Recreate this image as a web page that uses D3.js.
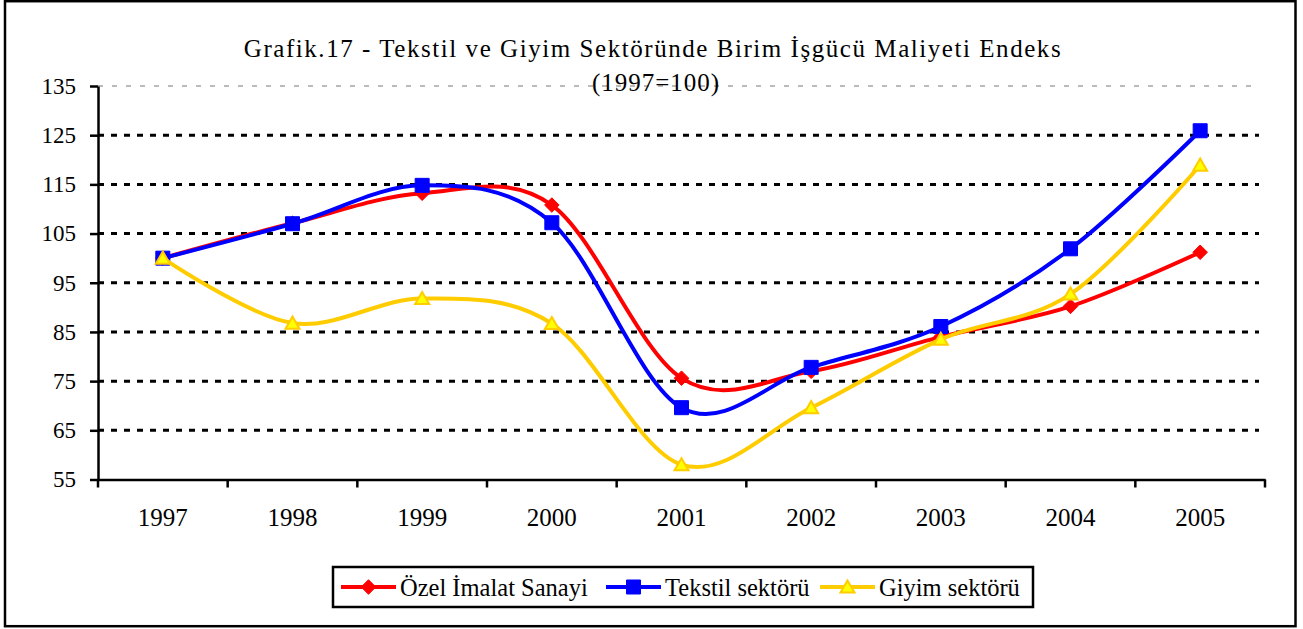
<!DOCTYPE html>
<html>
<head>
<meta charset="utf-8">
<script src="https://cdn.jsdelivr.net/npm/d3@7"></script>
<style>
  body { margin: 0; background: #fff; }
</style>
</head>
<body>
<div class="chart"></div>
<script>
var years = ["1997", "1998", "1999", "2000", "2001", "2002", "2003", "2004", "2005"];
var ozelImalat = [100, 107.1, 113.2, 110.8, 75.6, 77.0, 84.0, 90.2, 101.2];
var tekstil = [100, 107.0, 114.8, 107.2, 69.6, 77.8, 86.1, 101.9, 125.9];
var giyim = [100, 86.8, 91.8, 86.7, 58.0, 69.6, 83.5, 92.7, 118.9];
var yTicks = [55, 65, 75, 85, 95, 105, 115, 125, 135];
var seriesNames = ["Özel İmalat Sanayi", "Tekstil sektörü", "Giyim sektörü"];

var serifFont = '"Liberation Serif", "Times New Roman", serif';

var W = 1303, H = 629;
var margin = { top: 86, right: 38, bottom: 149.5, left: 98 };
var width = W - margin.left - margin.right;
var height = H - margin.top - margin.bottom;

var xScale = d3.scaleBand().domain(years).range([0, width]);
var yScale = d3.scaleLinear().domain([55, 135]).range([height, 0]);

var svg = d3.select(".chart").append("svg")
  .attr("width", W)
  .attr("height", H);

// outer frame
svg.append("rect")
  .attr("x", 5).attr("y", 1.2)
  .attr("width", 1290.5).attr("height", 625)
  .attr("fill", "none").attr("stroke", "#000").attr("stroke-width", 2.5);

// title
svg.append("text")
  .attr("x", 653).attr("y", 57)
  .attr("text-anchor", "middle")
  .style("font-family", serifFont)
  .style("font-size", "25px")
  .style("letter-spacing", "1.55px")
  .text("Grafik.17 - Tekstil ve Giyim Sektöründe Birim İşgücü Maliyeti Endeks");

var chart = svg.append("g")
  .attr("transform", "translate(" + margin.left + "," + margin.top + ")");

// gridlines
chart.selectAll(".grid")
  .data(yTicks.slice(1))
  .enter().append("line")
  .attr("class", "grid")
  .attr("x1", 0).attr("x2", width - 6)
  .attr("y1", function (d) { return yScale(d); })
  .attr("y2", function (d) { return yScale(d); })
  .attr("stroke", function (d) { return d === 135 ? "#777" : "#000"; })
  .attr("stroke-width", function (d) { return d === 135 ? 1 : 3; })
  .attr("stroke-dasharray", function (d) { return d === 135 ? "5,9" : "6,7"; });

svg.append("text")
  .attr("x", 656).attr("y", 91)
  .attr("text-anchor", "middle")
  .style("font-family", serifFont)
  .style("font-size", "25px")
  .style("letter-spacing", "1px")
  .text("(1997=100)");

// axes
var yAxis = chart.append("g")
  .call(d3.axisLeft(yScale).tickValues(yTicks).tickSize(8).tickSizeOuter(0).tickPadding(14));
yAxis.select(".domain").attr("stroke-width", 2.5);
yAxis.selectAll(".tick line").attr("stroke-width", 2.5);
yAxis.selectAll(".tick text")
  .style("font-size", "23px")
  .style("font-family", serifFont);

var xAxis = chart.append("g")
  .attr("transform", "translate(0," + height + ")")
  .call(d3.axisBottom(xScale).tickSize(0).tickPadding(29));
xAxis.select(".domain").attr("stroke-width", 2.5);
xAxis.selectAll(".tick text")
  .style("font-size", "25px")
  .style("font-family", serifFont);

// category separator ticks
chart.selectAll(".xsep")
  .data(years.concat(["end"]))
  .enter().append("line")
  .attr("x1", function (d, i) { return i * xScale.step(); })
  .attr("x2", function (d, i) { return i * xScale.step(); })
  .attr("y1", height).attr("y2", height + 8)
  .attr("stroke", "#000").attr("stroke-width", 2.5);

/* series */

var series = [
  { name: seriesNames[0], values: ozelImalat, color: "#ff0000", fill: "#ff0000", stroke: "#ff0000", marker: d3.symbolDiamond2, size: 135 },
  { name: seriesNames[1], values: tekstil, color: "#0000ff", fill: "#0000ff", stroke: "#0000ff", marker: d3.symbolSquare, size: 196 },
  { name: seriesNames[2], values: giyim, color: "#ffcc00", fill: "#ffff00", stroke: "#ffcc00", marker: d3.symbolTriangle, size: 85 }
];

var cx = function (i) { return xScale(years[i]) + xScale.bandwidth() / 2; };

var line = d3.line()
  .curve(d3.curveCardinal.tension(0))
  .x(function (d, i) { return cx(i); })
  .y(function (d) { return yScale(d); });

var symbolPath = function (s) {
  return d3.symbol().type(s.marker).size(s.size)();
};

var param = chart.selectAll(".param")
  .data(series)
  .enter().append("g");

param.append("path")
  .attr("d", function (d) { return line(d.values); })
  .attr("fill", "none")
  .attr("stroke", function (d) { return d.color; })
  .attr("stroke-width", 4)
  .attr("stroke-linejoin", "round");

param.each(function (s) {
  d3.select(this).selectAll(".pt")
    .data(s.values)
    .enter().append("path")
    .attr("transform", function (d, i) {
      var dy = s.marker === d3.symbolTriangle ? 1.5 : 0;
      return "translate(" + cx(i) + "," + (yScale(d) + dy) + ")";
    })
    .attr("d", symbolPath(s))
    .attr("fill", s.fill)
    .attr("stroke", s.stroke)
    .attr("stroke-width", s.marker === d3.symbolTriangle ? 2 : 1);
});

/* legend */

var legend = svg.append("g");
legend.append("rect")
  .attr("x", 333).attr("y", 567)
  .attr("width", 700).attr("height", 40)
  .attr("fill", "#fff").attr("stroke", "#000").attr("stroke-width", 2.5);

var legendX = [341, 606, 820];
var item = legend.selectAll(".item")
  .data(series)
  .enter().append("g")
  .attr("transform", function (d, i) { return "translate(" + legendX[i] + ",587)"; });

item.append("line")
  .attr("x1", 0).attr("x2", 55)
  .attr("stroke", function (d) { return d.color; })
  .attr("stroke-width", 4);

item.append("path")
  .attr("transform", function (d) { return "translate(27.5," + (d.marker === d3.symbolTriangle ? 1.5 : 0) + ")"; })
  .attr("d", function (d) { return symbolPath(d); })
  .attr("fill", function (d) { return d.fill; })
  .attr("stroke", function (d) { return d.stroke; })
  .attr("stroke-width", function (d) { return d.marker === d3.symbolTriangle ? 2 : 1; });

item.append("text")
  .attr("x", 59)
  .attr("dy", "0.35em")
  .style("font-family", serifFont)
  .style("font-size", "24.5px")
  .text(function (d) { return d.name; });
</script>
</body>
</html>
